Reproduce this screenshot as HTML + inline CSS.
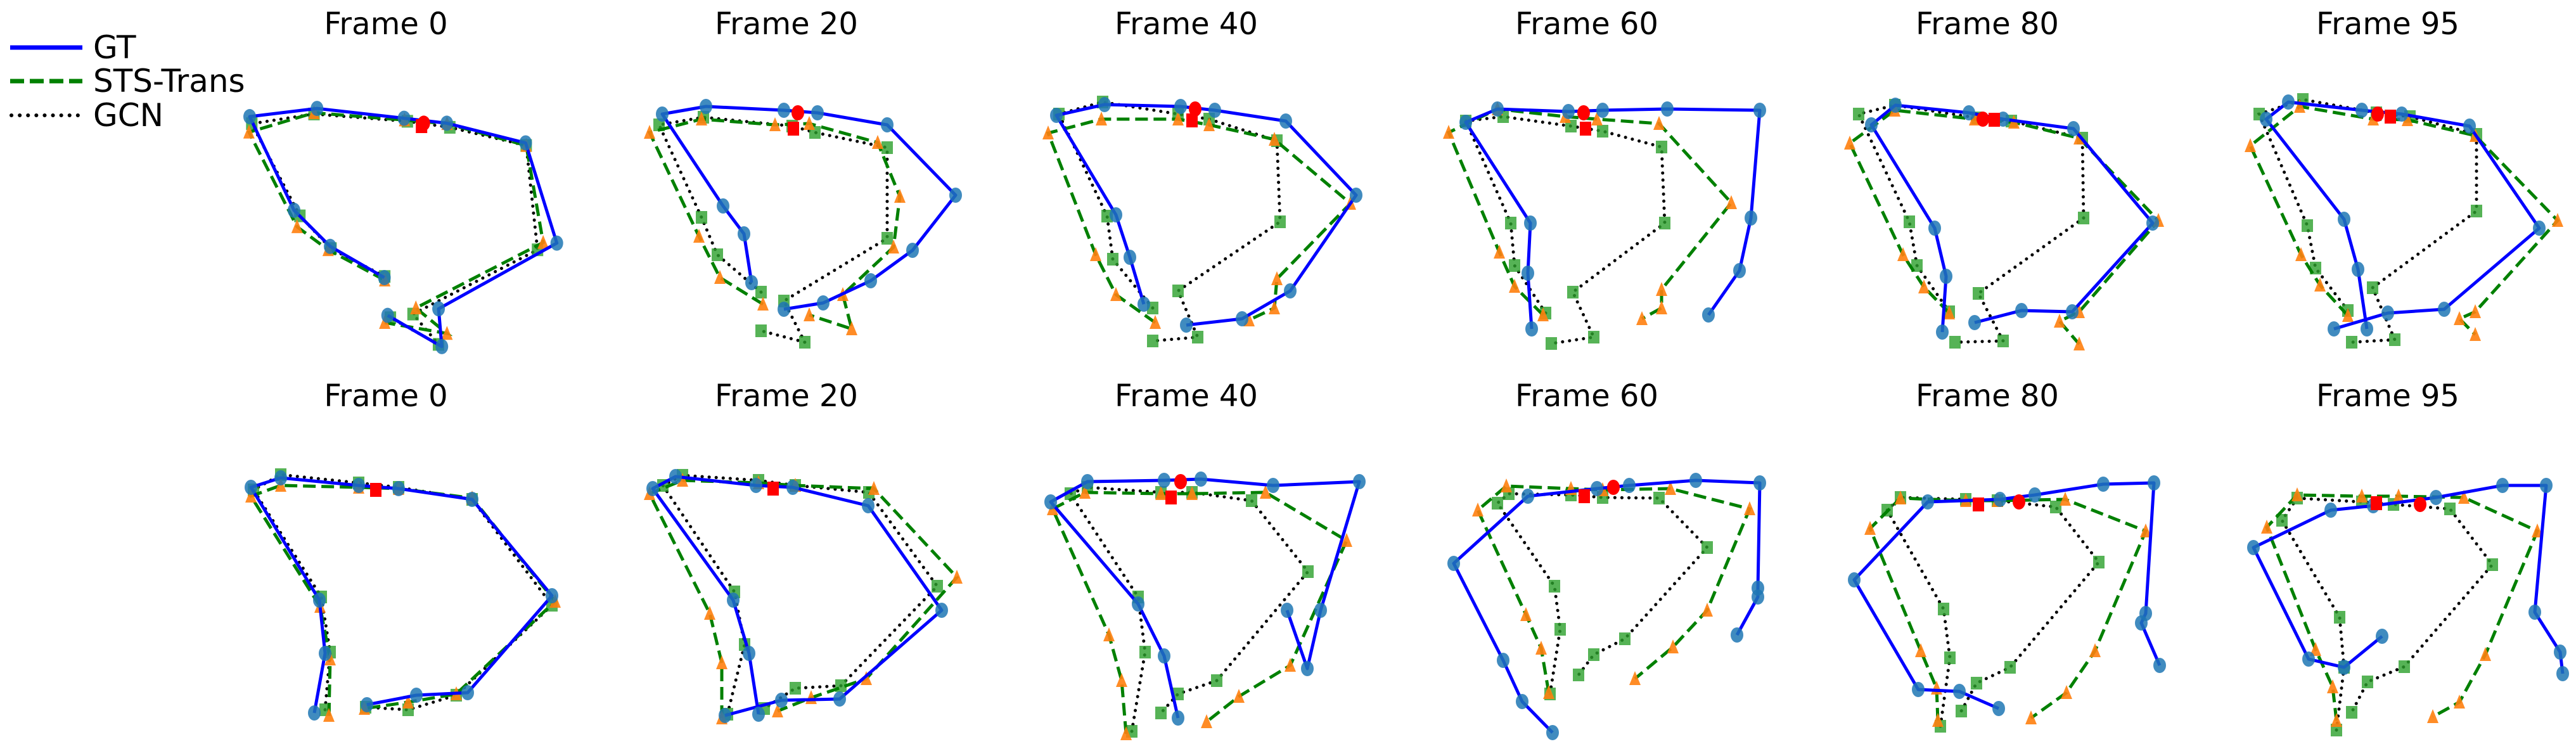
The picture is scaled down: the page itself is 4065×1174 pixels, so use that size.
<!DOCTYPE html>
<html><head><meta charset="utf-8">
<style>
html,body{margin:0;padding:0;background:#fff;}
svg{display:block;}
text{font-family:"DejaVu Sans","Liberation Sans",sans-serif;fill:#000;}
</style></head>
<body>
<svg id="s" width="4065" height="1174" viewBox="0 0 4065 1174" xmlns="http://www.w3.org/2000/svg">
<g id="plots"></g>
<g font-size="48" text-anchor="middle" dominant-baseline="central">
<text x="609" y="38">Frame 0</text>
<text x="1241" y="38">Frame 20</text>
<text x="1872" y="38">Frame 40</text>
<text x="2504" y="38">Frame 60</text>
<text x="3136" y="38">Frame 80</text>
<text x="3768" y="38">Frame 95</text>
<text x="609" y="625">Frame 0</text>
<text x="1241" y="625">Frame 20</text>
<text x="1872" y="625">Frame 40</text>
<text x="2504" y="625">Frame 60</text>
<text x="3136" y="625">Frame 80</text>
<text x="3768" y="625">Frame 95</text>
</g>
<g font-size="50" dominant-baseline="central">
<line x1="16" y1="75" x2="130" y2="75" stroke="#0000ff" stroke-width="7"/>
<text x="147" y="75">GT</text>
<line x1="16" y1="128" x2="130" y2="128" stroke="#008000" stroke-width="7" stroke-dasharray="22,9"/>
<text x="147" y="128">STS-Trans</text>
<line x1="18" y1="182" x2="130" y2="182" stroke="#000" stroke-width="6" stroke-dasharray="0.1,13" stroke-linecap="round"/>
<text x="147" y="182">GCN</text>
</g>
</svg>
<script>
var panels=[
{gt:[[234,169],[201,150],[179,128],[152,71],[193,66],[246,72],[272,75],[320,87],[339,148],[267,188],[269,211],[236,192]].map(function(p){return [p[0]*2.592,p[1]*2.592]}),
 red:[258*2.592,75*2.592],
 sts:[[680,1155],[580,1030],[525,935],[440,545],[555,465],[715,495],[790,510],[930,600],[960,1000],[735,1270],[790,1375],[680,1330]].map(function(p){return [p[0]/1.12,p[1]/2.613]}),
 gcn:[[680,1140],[585,1025],[530,890],[445,510],[555,470],[720,500],[795,525],[930,600],[950,1030],[730,1295],[775,1420],[690,1310]].map(function(p){return [p[0]/1.12,p[1]/2.613]}),
 rs:[745/1.12,520/2.613]},
{gt:[[1186,446],[1174,369],[1141,325],[1045,180],[1114,168],[1237,174],[1290,178],[1400,197],[1508,308],[1440,395],[1374,443],[1299,478],[1237,488]],red:[1259,178],
 sts:[[1204,480],[1136,438],[1103,373],[1025,209],[1107,188],[1223,197],[1277,195],[1385,225],[1420,310],[1410,390],[1330,465],[1344,519],[1277,497]],
 gcn:[[1201,461],[1132,402],[1107,343],[1040,197],[1110,185],[1250,199],[1286,209],[1400,233],[1400,376],[1237,475],[1270,540],[1201,522]],rs:[1252,203]},
{gt:[[1805,480],[1783,406],[1761,339],[1667,182],[1743,165],[1863,168],[1917,174],[2029,191],[2140,308],[2036,459],[1960,503],[1872,513]],red:[1886,172],
 sts:[[1823,509],[1761,465],[1729,402],[1654,210],[1738,188],[1859,188],[1908,197],[2011,220],[2131,321],[2015,440],[2011,486],[1971,505]],
 gcn:[[1819,486],[1756,409],[1747,341],[1671,180],[1740,161],[1859,180],[1908,188],[2015,222],[2020,350],[1859,459],[1890,532],[1819,538]],rs:[1881,190]},
{gt:[[2417,519],[2411,431],[2415,352],[2313,193],[2363,172],[2475,176],[2529,174],[2631,172],[2777,174],[2763,344],[2745,427],[2696,497]],red:[2499,178],
 sts:[[2435,497],[2390,452],[2366,398],[2286,209],[2363,172],[2470,184],[2520,188],[2618,195],[2732,320],[2622,457],[2622,486],[2591,503]],
 gcn:[[2439,494],[2390,419],[2384,352],[2313,191],[2372,184],[2479,199],[2529,207],[2622,232],[2627,352],[2482,461],[2515,532],[2448,542]],rs:[2502,203]},
{gt:[[3065,524],[3071,436],[3053,360],[2953,197],[2991,166],[3107,178],[3161,188],[3272,203],[3397,352],[3270,492],[3190,490],[3116,509]],red:[3129,188],
 sts:[[3076,494],[3036,453],[3003,402],[2919,226],[2990,174],[3116,188],[3178,193],[3281,218],[3406,348],[3281,492],[3250,507],[3281,543]],
 gcn:[[3076,492],[3025,419],[3013,350],[2933,180],[2990,166],[3120,186],[3174,191],[3286,218],[3288,344],[3122,463],[3161,538],[3085,540]],rs:[3147,189]},
{gt:[[3735,519],[3721,425],[3699,346],[3576,188],[3611,161],[3727,174],[3790,180],[3897,199],[4007,360],[3857,488],[3768,494],[3683,519]],red:[3752,180],
 sts:[[3705,498],[3661,450],[3631,402],[3551,230],[3629,168],[3745,188],[3799,189],[3906,214],[4036,348],[3906,492],[3881,503],[3906,528]],
 gcn:[[3705,490],[3654,423],[3641,356],[3565,180],[3634,157],[3750,178],[3803,184],[3908,212],[3908,333],[3744,454],[3779,536],[3711,540]],rs:[3772,184]},
{gt:[[496,1125],[513,1031],[504,947],[396,769],[443,754],[566,766],[629,771],[745,788],[871,940],[738,1093],[657,1097],[579,1112]],red:null,
 sts:[[519,1129],[521,1040],[505,957],[396,783],[443,766],[566,769],[629,771],[745,786],[876,949],[720,1095],[644,1108],[575,1118]],
 gcn:[[513,1120],[521,1029],[507,942],[400,773],[443,749],[566,762],[629,769],[745,788],[871,955],[720,1097],[644,1120],[577,1116]],rs:[593,773]},
{gt:[[1197,1127],[1182,1031],[1157,947],[1030,771],[1066,752],[1193,766],[1251,769],[1370,798],[1486,963],[1325,1103],[1233,1105],[1144,1129]],red:null,
 sts:[[1139,1133],[1139,1046],[1120,968],[1025,779],[1077,758],[1197,762],[1255,766],[1379,771],[1510,911],[1367,1071],[1280,1101],[1227,1122]],
 gcn:[[1148,1127],[1175,1017],[1159,934],[1046,766],[1077,750],[1197,758],[1255,766],[1371,777],[1479,925],[1327,1082],[1255,1086],[1206,1118]],rs:[1220,771]},
{gt:[[1859,1133],[1837,1035],[1796,953],[1658,792],[1716,760],[1837,758],[1895,756],[2009,766],[2145,760],[2084,963],[2063,1055],[2031,963]],red:[1863,760],
 sts:[[1777,1158],[1770,1074],[1750,1002],[1661,803],[1712,777],[1832,779],[1881,779],[1997,777],[2125,853],[2036,1050],[1955,1099],[1904,1139]],
 gcn:[[1786,1154],[1807,1029],[1796,942],[1689,779],[1716,769],[1832,777],[1881,777],[1975,790],[2064,902],[1920,1074],[1859,1095],[1832,1125]],rs:[1848,785]},
{gt:[[2450,1156],[2402,1107],[2372,1042],[2294,889],[2411,783],[2520,771],[2571,766],[2676,758],[2777,762],[2774,928],[2774,942],[2741,1002]],red:[2546,769],
 sts:[[2444,1093],[2432,1023],[2408,970],[2332,805],[2377,767],[2479,771],[2529,773],[2636,771],[2761,803],[2694,963],[2640,1021],[2580,1071]],
 gcn:[[2446,1095],[2462,993],[2453,925],[2363,794],[2381,779],[2479,781],[2529,785],[2618,786],[2694,864],[2564,1008],[2515,1033],[2491,1065]],rs:[2500,783]},
{gt:[[3154,1118],[3092,1091],[3027,1088],[2926,915],[3042,792],[3156,788],[3211,781],[3319,764],[3399,762],[3386,968],[3379,983],[3408,1050]],red:[3186,792],
 sts:[[3058,1137],[3056,1086],[3031,1027],[2951,834],[2999,786],[3102,790],[3152,790],[3259,788],[3386,838],[3306,1027],[3261,1093],[3205,1133]],
 gcn:[[3062,1146],[3077,1038],[3067,961],[2978,805],[2999,785],[3102,788],[3152,790],[3244,800],[3312,887],[3172,1053],[3119,1078],[3095,1122]],rs:[3122,796]},
{gt:[[3759,1004],[3699,1053],[3643,1040],[3556,864],[3678,805],[3745,798],[3844,785],[3949,766],[4018,766],[4000,966],[4040,1029],[4044,1063]],red:[3819,796],
 sts:[[3687,1137],[3681,1084],[3654,1025],[3577,832],[3625,781],[3727,783],[3785,783],[3888,785],[4004,838],[3922,1033],[3881,1108],[3839,1131]],
 gcn:[[3687,1152],[3699,1053],[3692,974],[3601,821],[3625,786],[3727,792],[3777,796],[3866,803],[3933,891],[3794,1052],[3736,1076],[3711,1124]],rs:[3750,794]}
];
var NS="http://www.w3.org/2000/svg",G=document.getElementById("plots");
function el(n,a){var e=document.createElementNS(NS,n);for(var k in a)e.setAttribute(k,a[k]);G.appendChild(e);return e;}
function pts(a){return a.map(function(p){return p[0].toFixed(1)+","+p[1].toFixed(1)}).join(" ");}
panels.forEach(function(pn){
  el("polyline",{points:pts(pn.gcn),fill:"none",stroke:"#000","stroke-width":5,"stroke-dasharray":"0.1,11","stroke-linecap":"round"});
  pn.gcn.forEach(function(p){el("rect",{x:p[0]-9,y:p[1]-10,width:18,height:20,fill:"#2ca02c",opacity:0.8});});
  el("polyline",{points:pts(pn.sts),fill:"none",stroke:"#008000","stroke-width":5,"stroke-dasharray":"20,9"});
  pn.sts.forEach(function(p){var x=p[0],y=p[1];el("polygon",{points:(x)+","+(y-12)+" "+(x-9)+","+(y+10)+" "+(x+9)+","+(y+10),fill:"#ff7f0e",opacity:0.9});});
  el("polyline",{points:pts(pn.gt),fill:"none",stroke:"#0000ff","stroke-width":5,"stroke-linejoin":"round"});
  pn.gt.forEach(function(p){el("ellipse",{cx:p[0],cy:p[1],rx:10,ry:12,fill:"#1f77b4",opacity:0.85});});
  if(pn.rs)el("rect",{x:pn.rs[0]-9,y:pn.rs[1]-11,width:18,height:22,fill:"#ff0000"});
  if(pn.red)el("ellipse",{cx:pn.red[0],cy:pn.red[1],rx:10,ry:12,fill:"#ff0000"});
});
</script>
</body></html>
